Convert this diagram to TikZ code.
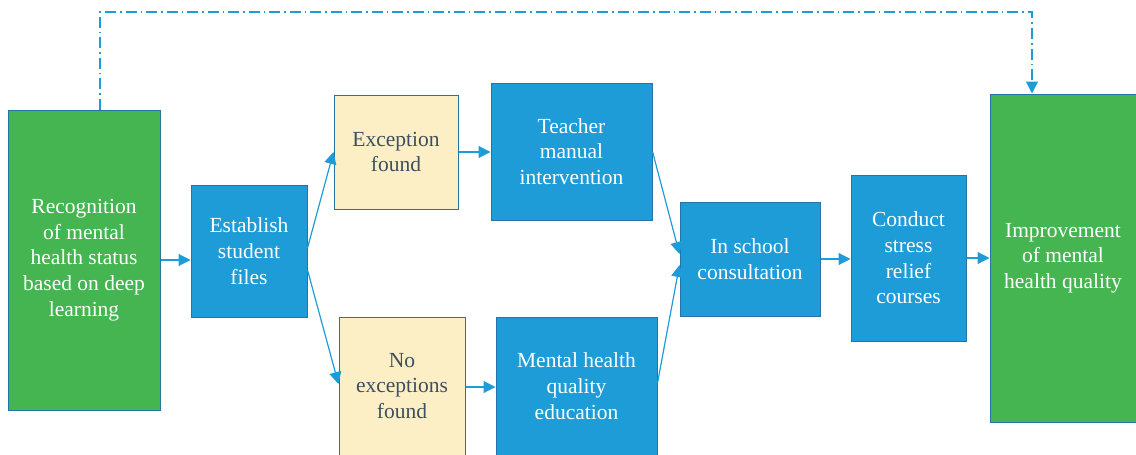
\documentclass[tikz,border=0pt]{standalone}
\usepackage{fontspec}
\setmainfont{Liberation Serif}
\usetikzlibrary{arrows.meta}
\definecolor{gr}{HTML}{44B550}
\definecolor{bl}{HTML}{1E9CD7}
\definecolor{yl}{HTML}{FCEEC5}
\definecolor{bd}{HTML}{2474A8}
\definecolor{tx}{HTML}{3E5060}
\definecolor{ln}{HTML}{1E9CD7}
\tikzset{
  box/.style={draw=bd, line width=1pt, rectangle, inner sep=0pt, align=center,
    font=\fontsize{21.5}{25.7}\selectfont},
  gbox/.style={box, fill=gr, text=white},
  bbox/.style={box, fill=bl, text=white},
  ybox/.style={box, fill=yl, text=tx},
  arr/.style={draw=ln, line width=1.2pt, -{Triangle[length=12pt,width=12pt]}},
  dd/.style={draw=ln, line width=1.2pt, dash pattern=on 11pt off 4pt on 1.5pt off 4pt,
    -{Triangle[length=12pt,width=12pt]}}
}
\begin{document}
\begin{tikzpicture}[x=1pt,y=-1pt]
\useasboundingbox (0,0) rectangle (1136,455);
\node[gbox, minimum width=152pt, minimum height=300pt] (rec) at (84,260)
  {Recognition\\of mental\\health status\\based on deep\\learning};
\node[bbox, minimum width=116pt, minimum height=132pt] (est) at (249,251)
  {Establish\\student\\files};
\node[ybox, minimum width=124pt, minimum height=114pt] (exc) at (396,152)
  {Exception\\found};
\node[bbox, minimum width=161pt, minimum height=137pt] (tea) at (571.5,151.5)
  {Teacher\\manual\\intervention};
\node[ybox, minimum width=126pt, minimum height=138pt] (noe) at (402,386)
  {No\\exceptions\\found};
\node[bbox, minimum width=161pt, minimum height=138pt] (men) at (576.5,386)
  {Mental health\\quality\\education};
\node[bbox, minimum width=140pt, minimum height=114pt] (sch) at (750,259)
  {In school\\consultation};
\node[bbox, minimum width=115pt, minimum height=166pt] (con) at (908.5,258)
  {Conduct\\stress\\relief\\courses};
\node[gbox, minimum width=146pt, minimum height=328pt] (imp) at (1063,258)
  {Improvement\\of mental\\health quality};
\coordinate (tl) at (100,12);
\coordinate (tr) at (1032,12);

\draw[arr] (rec.east) -- (rec.east -| est.west);
\draw[arr] ([yshift=3pt]est.east) -- (exc.west);
\draw[arr] ([yshift=-19pt]est.east) -- ([yshift=2pt]noe.west);
\draw[arr] (exc.east) -- (exc.east -| tea.west);
\draw[arr] ([yshift=-1pt]noe.east) -- ([yshift=-1pt]noe.east -| men.west);
\draw[arr] (tea.east) -- ([yshift=5pt]sch.west);
\draw[arr] ([yshift=3pt]men.east) -- ([yshift=-6pt]sch.west);
\draw[arr] (sch.east) -- (sch.east -| con.west);
\draw[arr] (con.east) -- (con.east -| imp.west);
\draw[dd] ([xshift=16pt]rec.north) -- (tl) -- (tr) -- ([xshift=-31pt]imp.north);
\end{tikzpicture}
\end{document}
